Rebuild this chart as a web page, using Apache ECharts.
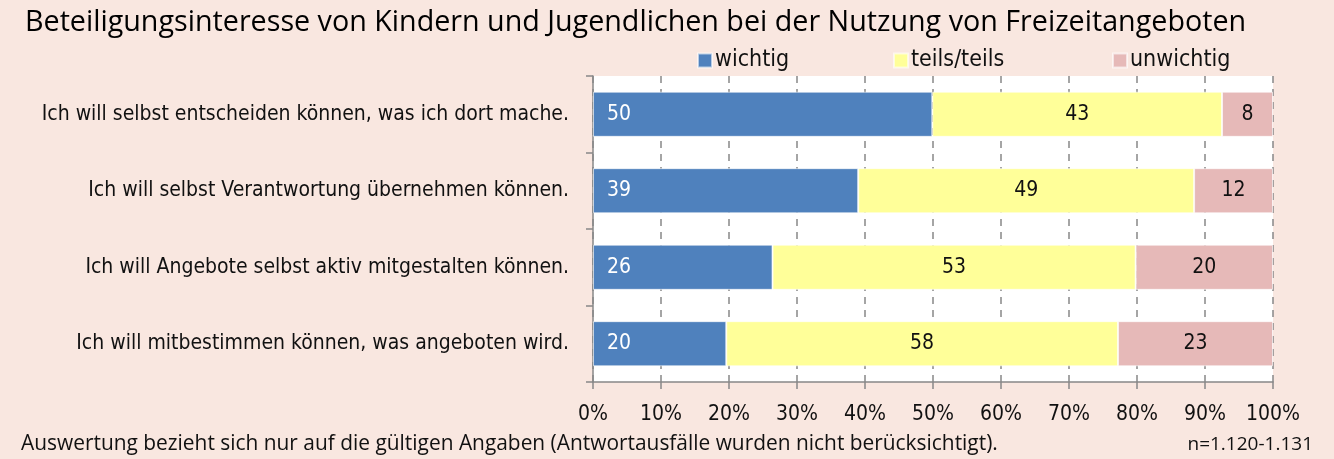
<!DOCTYPE html>
<html>
<head>
<meta charset="utf-8">
<script src="https://cdn.jsdelivr.net/npm/echarts@6/dist/echarts.min.js"></script>
<style>
html,body{margin:0;padding:0;background:#F9E7E0;}
#c{width:1334px;height:459px;}
</style>
</head>
<body>
<div id="c"></div>
<script>
const title = 'Beteiligungsinteresse von Kindern und Jugendlichen bei der Nutzung von Freizeitangeboten';
const footnote = 'Auswertung bezieht sich nur auf die gültigen Angaben (Antwortausfälle wurden nicht berücksichtigt).';
const sampleNote = 'n=1.120-1.131';
const categories = [
  'Ich will selbst entscheiden können, was ich dort mache.',
  'Ich will selbst Verantwortung übernehmen können.',
  'Ich will Angebote selbst aktiv mitgestalten können.',
  'Ich will mitbestimmen können, was angeboten wird.'
];
const seriesNames = ['wichtig', 'teils/teils', 'unwichtig'];
const wichtig = [49.9, 39.0, 26.4, 19.6];
const teils = [42.6, 49.4, 53.4, 57.6];
const unwichtig = [7.5, 11.6, 20.2, 22.8];
const xTicks = [0, 10, 20, 30, 40, 50, 60, 70, 80, 90, 100];

const FONT = '"Liberation Sans Narrow", "DejaVu Sans Condensed", "Open Sans", sans-serif';
const FONT2 = '"Open Sans", "Noto Sans", sans-serif';
const colors = ['#4F81BD', '#FFFF99', '#E6B9B8'];

const chart = echarts.init(document.getElementById('c'));
const mk = (name, data, color, labelColor, pos) => ({
  name, type: 'bar', stack: 'all', data, barWidth: '59%',
  itemStyle: { color, borderColor: 'rgba(255,255,255,0.6)', borderWidth: 1 },
  label: { show: true, position: pos, distance: 14, color: labelColor, fontFamily: FONT, fontSize: 21,
    formatter: p => Math.round(p.value) },
  emphasis: { disabled: true }
});
const legendBase = { top: 44, itemWidth: 14, itemHeight: 14, icon: 'rect',
  textStyle: { fontFamily: FONT, fontSize: 23, color: '#111', padding: [0,0,0,-2] } };
chart.setOption({
  backgroundColor: '#F9E7E0',
  animation: false,
  title: { text: title, left: 20, top: 3, textStyle: { fontFamily: FONT2, fontSize: 28.7, fontWeight: 'normal', color: '#000' } },
  legend: [
    Object.assign({ left: 692, data: [seriesNames[0]] }, legendBase),
    Object.assign({ left: 888, data: [seriesNames[1]] }, legendBase),
    Object.assign({ left: 1107, data: [seriesNames[2]] }, legendBase)
  ],
  grid: { left: 593, right: 61, top: 76, bottom: 77, backgroundColor: '#fff', show: true, borderWidth: 0 },
  xAxis: {
    type: 'value', min: 0, max: 100, interval: 10,
    axisLine: { show: true, lineStyle: { color: '#888', width: 1.5 } },
    axisTick: { show: true, length: 7, lineStyle: { color: '#888', width: 1.5 } },
    axisLabel: { fontFamily: FONT, fontSize: 21, color: '#111', margin: 22, formatter: v => v + '%' },
    splitLine: { show: true, lineStyle: { color: '#888', type: [7, 6], width: 1.5 } }
  },
  yAxis: {
    type: 'category', data: categories, inverse: true,
    axisLine: { show: true, lineStyle: { color: '#888', width: 1.5 } },
    axisTick: { show: true, length: 7, lineStyle: { color: '#888', width: 1.5 } },
    axisLabel: { fontFamily: FONT, fontSize: 21, color: '#111', margin: 24 }
  },
  series: [
    mk(seriesNames[0], wichtig, colors[0], '#fff', 'insideLeft'),
    mk(seriesNames[1], teils, colors[1], '#111', 'inside'),
    mk(seriesNames[2], unwichtig, colors[2], '#111', 'inside')
  ],
  graphic: [
    { type: 'text', left: 21, top: 434, style: { text: footnote, font: '20.9px ' + FONT2, fill: '#111' } },
    { type: 'text', right: 21, top: 435, style: { text: sampleNote, font: '19px ' + FONT2, fill: '#111' } }
  ]
});
</script>
</body>
</html>
